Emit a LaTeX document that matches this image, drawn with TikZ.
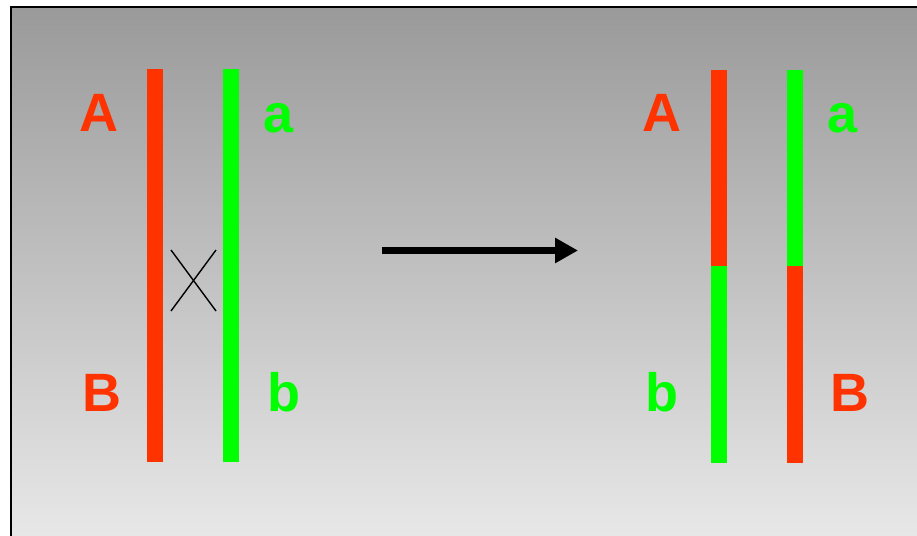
\documentclass[tikz,border=0pt]{standalone}
\usepackage{fontspec}
\setmainfont{Liberation Sans}
\usetikzlibrary{arrows.meta}
\definecolor{chred}{HTML}{FF3300}
\definecolor{chgreen}{HTML}{00FF00}
\definecolor{bgtop}{HTML}{9A9A9A}
\definecolor{bgbot}{HTML}{E8E8E8}
\begin{document}
\begin{tikzpicture}[x=1pt,y=-1pt,
  lbl/.style={font=\bfseries\fontsize{54}{54}\selectfont, anchor=base, inner sep=0pt},
  redbar/.style={fill=chred},
  greenbar/.style={fill=chgreen},
  cross/.style={line width=1.4pt, black},
  bigarrow/.style={line width=7pt, -{Triangle[length=23pt,width=24pt]}}]
\useasboundingbox (0,0) rectangle (917,535);
\begin{scope}
\clip (0,0) rectangle (917,535);
\shade[top color=bgtop, bottom color=bgbot] (11,7) rectangle (930,540);
\draw[line width=2pt] (11,545) -- (11,7) -- (930,7);
\end{scope}
% left pair
\fill[redbar] (147,69) rectangle (163,462);
\fill[greenbar] (223,69) rectangle (239,462);
\coordinate (x1) at (171,250);
\coordinate (x2) at (216,311);
\coordinate (x3) at (216,250);
\coordinate (x4) at (171,311);
\draw[cross] (x1) -- (x2);
\draw[cross] (x3) -- (x4);
\node[lbl, text=chred] (A1) at (99,131) {A};
\node[lbl, text=chgreen] (a1) at (279,132) {a};
\node[lbl, text=chred] (B1) at (102,411) {B};
\node[lbl, text=chgreen] (b1) at (284,411) {b};
% arrow
\coordinate (s) at (382,250.5);
\coordinate (t) at (578,250.5);
\draw[bigarrow] (s) -- (t);
% right pair
\fill[redbar] (711,70) rectangle (727,266);
\fill[greenbar] (711,266) rectangle (727,463);
\fill[greenbar] (787,70) rectangle (803,266);
\fill[redbar] (787,266) rectangle (803,463);
\node[lbl, text=chred] (A2) at (662,131) {A};
\node[lbl, text=chgreen] (a2) at (843,132) {a};
\node[lbl, text=chgreen] (b2) at (662,411) {b};
\node[lbl, text=chred] (B2) at (850,411) {B};
\end{tikzpicture}
\end{document}
